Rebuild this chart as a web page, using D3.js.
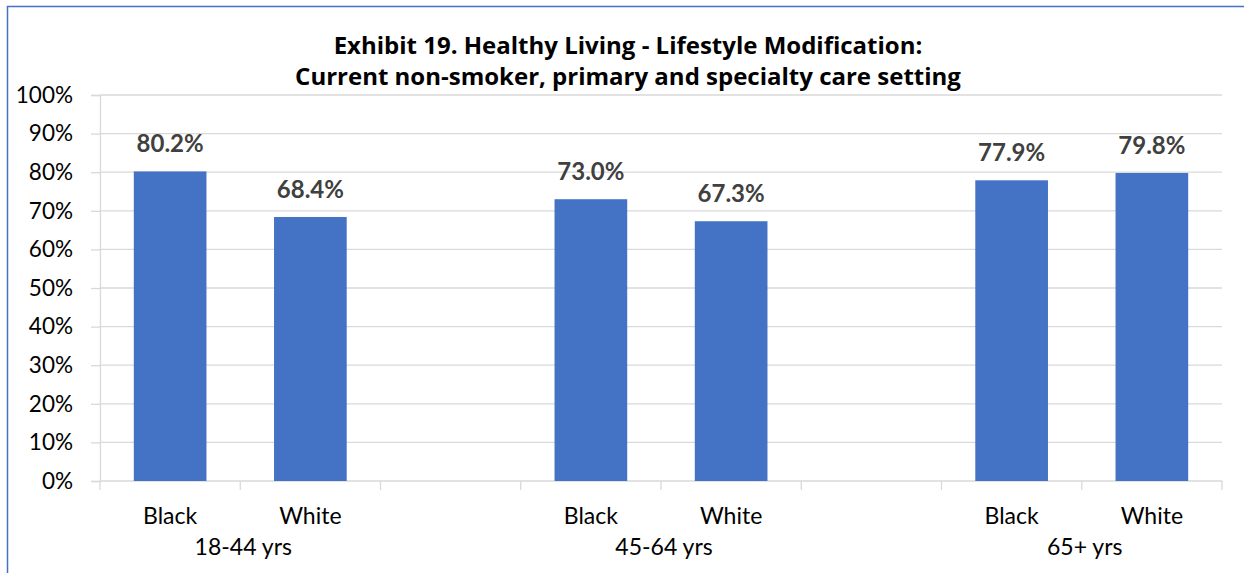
<!DOCTYPE html>
<html>
<head>
<meta charset="utf-8">
<script src="https://cdn.jsdelivr.net/npm/d3@7/dist/d3.min.js"></script>
<style>
  html, body { margin: 0; padding: 0; background: #fff; }
  svg { display: block; }
</style>
</head>
<body>
<svg id="chart" width="1244" height="573"></svg>
<script>
// ---- data ----
const titleLines = ["Exhibit 19. Healthy Living - Lifestyle Modification:",
                    "Current non-smoker, primary and specialty care setting"];
const groups = ["18-44 yrs", "45-64 yrs", "65+ yrs"];
const races = ["Black", "White"];
const values = [
  [80.2, 68.4],
  [73.0, 67.3],
  [77.9, 79.8]
];
const yTicks = [0, 10, 20, 30, 40, 50, 60, 70, 80, 90, 100];

// ---- layout ----
const W = 1244, H = 573;
const plot = { left: 100, right: 1222, top: 95, bottom: 481 };
const barColor = "#4472C4";
const gridColor = "#d9d9d9";
const FONT = "Lato, 'Noto Sans', sans-serif";

const svg = d3.select("#chart");

// outer border (extends past right/bottom edge like the reference)
svg.append("rect")
  .attr("x", 7.5).attr("y", 6.5)
  .attr("width", W + 20).attr("height", H + 20)
  .attr("fill", "none").attr("stroke", barColor).attr("stroke-width", 1.5);

// slots: each group takes two slots, with an empty slot between groups
const slots = [];
groups.forEach((g, gi) => {
  races.forEach(r => slots.push(g + "|" + r));
  if (gi < groups.length - 1) slots.push("gap" + gi);
});

const x = d3.scaleBand().domain(slots).range([plot.left, plot.right]).padding(0);
const y = d3.scaleLinear().domain([0, 100]).range([plot.bottom, plot.top]);

// gridlines
svg.append("g").selectAll("line").data(yTicks.filter(t => t > 0)).join("line")
  .attr("x1", plot.left).attr("x2", plot.right)
  .attr("y1", d => y(d)).attr("y2", d => y(d))
  .attr("stroke", gridColor).attr("stroke-width", 1.3);

// y axis
const yAxis = svg.append("g").attr("transform", `translate(${plot.left},0)`)
  .call(d3.axisLeft(y).tickValues(yTicks).tickSize(9).tickPadding(18)
    .tickFormat(d => d + "%"));
yAxis.select(".domain").attr("stroke", gridColor).attr("stroke-width", 1.3);
yAxis.selectAll(".tick line").attr("stroke", gridColor).attr("stroke-width", 1.3);
yAxis.selectAll(".tick text").style("font-size", "22.5px").attr("fill", "#000")
  .style("font-family", FONT);

// x axis line + boundary ticks
const xg = svg.append("g");
xg.append("line").attr("x1", plot.left).attr("x2", plot.right)
  .attr("y1", plot.bottom).attr("y2", plot.bottom)
  .attr("stroke", gridColor).attr("stroke-width", 1.3);
const boundaries = slots.map(s => x(s)).concat([x(slots[slots.length - 1]) + x.bandwidth()]);
xg.selectAll("line.tk").data(boundaries).join("line").attr("class", "tk")
  .attr("x1", d => d).attr("x2", d => d)
  .attr("y1", plot.bottom).attr("y2", plot.bottom + 9)
  .attr("stroke", gridColor).attr("stroke-width", 1.3);

// bars
const barData = [];
groups.forEach((g, gi) => races.forEach((r, ri) =>
  barData.push({ key: g + "|" + r, race: r, group: g, v: values[gi][ri] })));
const barW = x.bandwidth() / 1.93;

svg.append("g").selectAll("rect").data(barData).join("rect")
  .attr("x", d => x(d.key) + (x.bandwidth() - barW) / 2)
  .attr("width", barW)
  .attr("y", d => y(d.v))
  .attr("height", d => y(0) - y(d.v))
  .attr("fill", barColor);

// value labels
svg.append("g").selectAll("text").data(barData).join("text")
  .attr("x", d => x(d.key) + x.bandwidth() / 2)
  .attr("y", d => y(d.v) - 19)
  .attr("text-anchor", "middle")
  .style("font-family", FONT).style("font-size", "24px").style("font-weight", "bold")
  .attr("fill", "#404040")
  .text(d => d.v.toFixed(1) + "%");

// category labels
svg.append("g").selectAll("text").data(barData).join("text")
  .attr("x", d => x(d.key) + x.bandwidth() / 2)
  .attr("y", 524)
  .attr("text-anchor", "middle")
  .style("font-family", FONT).style("font-size", "23px")
  .attr("fill", "#000")
  .text(d => d.race);

// group labels
svg.append("g").selectAll("text").data(groups).join("text")
  .attr("x", g => x(g + "|" + races[1]) + 3)
  .attr("y", 555)
  .attr("text-anchor", "middle")
  .style("font-family", FONT).style("font-size", "23px")
  .attr("fill", "#000")
  .text(g => g);

// title
svg.append("g").selectAll("text").data(titleLines).join("text")
  .attr("x", 628)
  .attr("y", (d, i) => 54 + i * 31)
  .attr("text-anchor", "middle")
  .style("font-family", "'Open Sans', Lato, sans-serif")
  .style("font-size", "24px").style("font-weight", "bold")
  .attr("fill", "#000")
  .text(d => d);
</script>
</body>
</html>
